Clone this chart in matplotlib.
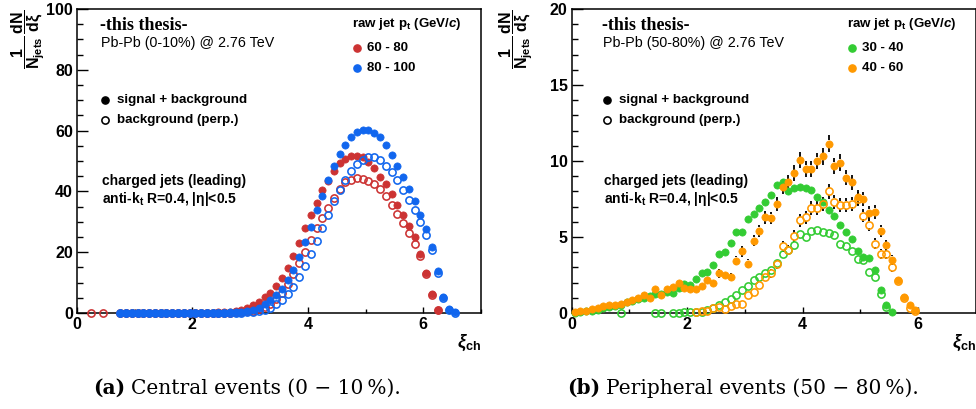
import numpy as np
import matplotlib
matplotlib.use('Agg')
import matplotlib.pyplot as plt
from matplotlib.ticker import MultipleLocator

plt.rcParams['font.family'] = ['Liberation Sans', 'DejaVu Sans']
plt.rcParams['mathtext.fontset'] = 'custom'
plt.rcParams['mathtext.rm'] = 'Liberation Sans:bold'
plt.rcParams['mathtext.it'] = 'Liberation Sans:italic:bold'
plt.rcParams['mathtext.bf'] = 'Liberation Sans:bold'

# ---------------- data: central (0-10%) ----------------
xi_central = np.round(np.arange(0.75, 6.56, 0.1), 2)   # bin centres
red_sig = [0.0, 0.0, 0.0, 0.0, 0.0, 0.0, 0.0, 0.0, 0.0, 0.0, 0.0, 0.05, 0.05, 0.05,
           0.1, 0.1, 0.15, 0.2, 0.3, 0.4, 0.6, 1.0, 1.6, 2.5, 3.7, 5.1, 6.5, 8.8,
           11.5, 14.8, 18.7, 23.1, 27.8, 32.1, 36.2, 40.3, 43.5, 46.6, 49.3, 50.6,
           51.5, 51.8, 51.3, 49.6, 47.8, 44.9, 42.3, 39.2, 35.4, 32.1, 28.5, 25.0,
           19.3, 13.2, 6.3, 1.0]
red_bkg_low_x = [0.25, 0.45]
red_bkg_low = [0.0, 0.0]
red_bkg = [0.0, 0.0, 0.0, 0.0, 0.0, 0.0, 0.0, 0.0, 0.0, 0.0, 0.0, 0.0, 0.0, 0.0,
           0.0, 0.0, 0.0, 0.0, 0.1, 0.15, 0.25, 0.35, 0.5, 0.8, 1.2, 2.0, 3.0, 4.5,
           6.5, 9.7, 12.8, 16.3, 20.0, 24.0, 27.8, 31.4, 34.5, 37.9, 40.9, 43.0,
           43.9, 44.3, 44.0, 43.4, 42.5, 40.9, 38.4, 35.4, 32.7, 29.6, 26.3, 22.8,
           18.7, 12.8, 5.8, 0.9]
blue_sig = [0.0, 0.0, 0.0, 0.0, 0.0, 0.0, 0.0, 0.0, 0.0, 0.0, 0.0, 0.0, 0.0, 0.0,
            0.0, 0.0, 0.05, 0.1, 0.15, 0.2, 0.3, 0.4, 0.6, 1.0, 1.8, 2.8, 4.3, 6.0,
            8.0, 10.9, 14.2, 18.5, 23.3, 28.3, 33.8, 38.5, 43.8, 48.3, 52.4, 55.4,
            58.0, 59.4, 60.2, 60.2, 59.2, 57.8, 55.1, 52.1, 48.5, 44.7, 40.8, 36.8,
            32.4, 27.6, 21.8, 13.8, 5.4, 1.2, 0.3]
blue_bkg = [0.0, 0.0, 0.0, 0.0, 0.0, 0.0, 0.0, 0.0, 0.0, 0.0, 0.0, 0.0, 0.0, 0.0,
            0.0, 0.0, 0.0, 0.0, 0.0, 0.0, 0.0, 0.1, 0.2, 0.3, 0.5, 1.0, 1.8, 2.8,
            4.3, 6.2, 8.7, 11.8, 15.4, 19.3, 23.6, 28.1, 32.4, 36.8, 40.3, 43.6,
            46.7, 49.1, 50.4, 51.3, 51.3, 50.2, 48.5, 46.3, 43.6, 40.5, 37.3, 33.8,
            29.9, 25.6, 20.7, 13.2, 5.0, 1.0, 0.1]

# ---------------- data: peripheral (50-80%) ----------------
xi_periph = np.round(np.arange(0.05, 5.96, 0.1), 2)   # bin centres
green_sig = [0.0, 0.05, 0.1, 0.15, 0.2, 0.3, 0.4, 0.45, 0.55, 0.7, 0.8, 0.9, 1.0,
             1.1, 1.25, 1.25, 1.35, 1.3, 1.65, 1.9, 1.85, 2.25, 2.6, 2.7, 3.15,
             3.87, 4.0, 4.6, 5.3, 5.35, 6.2, 6.5, 6.9, 7.3, 7.75, 8.4, 8.6, 8.05,
             8.2, 8.3, 8.2, 8.1, 7.6, 7.3, 6.75, 6.4, 5.8, 5.3, 4.9, 4.1, 3.7, 3.6,
             2.8, 1.5, 0.5, 0.07]
green_bkg_x = [0.85, 1.45, 1.55, 1.75, 1.85, 1.95, 2.05, 2.15, 2.25, 2.35, 2.45,
               2.55, 2.65, 2.75, 2.85, 2.95, 3.05, 3.15, 3.25, 3.35, 3.45, 3.55,
               3.65, 3.75, 3.85, 3.95, 4.05, 4.15, 4.25, 4.35, 4.45, 4.55, 4.65,
               4.75, 4.85, 4.95, 5.05, 5.15, 5.25, 5.35, 5.45]
green_bkg = [0.0, 0.0, 0.0, 0.0, 0.0, 0.05, 0.05, 0.05, 0.05, 0.2, 0.35, 0.5, 0.75,
             0.95, 1.2, 1.5, 1.8, 2.2, 2.4, 2.6, 2.85, 3.3, 3.85, 4.15, 4.45, 5.2,
             5.0, 5.4, 5.45, 5.35, 5.25, 5.12, 4.57, 4.4, 4.05, 3.57, 3.5, 2.72,
             2.4, 1.27, 0.4]
orange_sig = [0.07, 0.1, 0.15, 0.25, 0.3, 0.45, 0.5, 0.5, 0.57, 0.7, 0.86, 1.0,
              1.2, 1.0, 1.6, 1.2, 1.6, 1.7, 2.0, 1.65, 1.6, 1.6, 1.8, 2.2, 2.0,
              2.6, 2.5, 2.35, 3.45, 4.05, 3.25, 4.75, 5.4, 6.3, 6.25, 7.15, 8.3,
              8.6, 9.2, 10.05, 9.5, 9.5, 10.0, 10.3, 11.15, 9.7, 9.9, 8.9, 8.6,
              7.6, 7.5, 6.6, 6.65, 5.4, 4.45, 3.5, 2.15, 1.05, 0.5, 0.2]
orange_sig_err = [0.05, 0.05, 0.07, 0.08, 0.09, 0.11, 0.12, 0.12, 0.13, 0.14, 0.16,
                  0.17, 0.19, 0.17, 0.21, 0.19, 0.21, 0.22, 0.24, 0.22, 0.21, 0.21,
                  0.23, 0.25, 0.24, 0.27, 0.27, 0.26, 0.32, 0.34, 0.31, 0.37, 0.39,
                  0.43, 0.42, 0.45, 0.49, 0.5, 0.52, 0.54, 0.52, 0.52, 0.54, 0.55,
                  0.57, 0.53, 0.53, 0.51, 0.5, 0.47, 0.47, 0.44, 0.44, 0.39, 0.36,
                  0.32, 0.25, 0.17, 0.12, 0.08]
orange_bkg = [0.05, 0.1, 0.15, 0.3, 0.4, 0.25, 0.45, 0.6, 0.6, 1.2, 1.4, 1.85, 2.4,
              2.6, 3.2, 4.4, 4.15, 5.05, 6.1, 6.3, 6.9, 6.9, 7.15, 8.0, 7.3, 7.1,
              7.1, 7.2, 7.5, 6.4, 5.8, 4.55, 3.9, 3.9, 3.0, 2.1, 1.0, 0.3, 0.1]
orange_bkg_err = [0.04, 0.05, 0.07, 0.09, 0.11, 0.08, 0.11, 0.13, 0.13, 0.19, 0.2,
                  0.23, 0.26, 0.27, 0.3, 0.36, 0.35, 0.38, 0.42, 0.43, 0.45, 0.45,
                  0.45, 0.48, 0.46, 0.45, 0.45, 0.46, 0.47, 0.43, 0.41, 0.36, 0.34,
                  0.34, 0.29, 0.25, 0.17, 0.09, 0.05]

RED, BLUE, GREEN, ORANGE = '#cc3333', '#1166ee', '#33cc33', '#ff9900'
MS = 5.2
MEW = 1.15

W, H = 976, 409
fig = plt.figure(figsize=(W / 100, H / 100), dpi=100)
ax_bottom = (H - 313) / H
ax_height = (313 - 9) / H
axL = fig.add_axes([77 / W, ax_bottom, 404 / W, ax_height])
axR = fig.add_axes([571.7 / W, ax_bottom, 404.3 / W, ax_height])


def style_axis(ax, ymax, ymajor, yminor):
    ax.set_xlim(0, 7)
    ax.set_ylim(0, ymax)
    ax.xaxis.set_major_locator(MultipleLocator(2))
    ax.xaxis.set_minor_locator(MultipleLocator(1))
    ax.yaxis.set_major_locator(MultipleLocator(ymajor))
    ax.yaxis.set_minor_locator(MultipleLocator(yminor))
    ax.tick_params(axis='both', which='both', direction='in', width=1.0,
                   top=False, right=False, labelsize=11.5, pad=3)
    ax.tick_params(axis='y', which='major', length=8)
    ax.tick_params(axis='y', which='minor', length=4.3)
    ax.tick_params(axis='x', which='major', length=4.5)
    ax.tick_params(axis='x', which='minor', length=3)
    for lab in ax.get_xticklabels() + ax.get_yticklabels():
        lab.set_fontweight('bold')
    for sp in ax.spines.values():
        sp.set_linewidth(1.1)


def filled(ax, x, y, c, z=3):
    ax.plot(x, y, 'o', ls='none', ms=MS, mfc=c, mec=c, mew=0.5, zorder=z, clip_on=False)


def hollow(ax, x, y, c, z=3):
    ax.plot(x, y, 'o', ls='none', ms=MS, mfc='none', mec=c, mew=MEW, zorder=z, clip_on=False)


def errbars(ax, x, y, e, ymax):
    # vertical error bars drawn outside the marker, as ROOT does
    px_per_unit = ax.bbox.height / ymax
    r = (MS / 2 * fig.dpi / 72) / px_per_unit
    x = np.asarray(x); y = np.asarray(y); e = np.asarray(e)
    m = e > r
    ax.vlines(x[m], y[m] + r, y[m] + e[m], colors='k', lw=1.3, zorder=2)
    ax.vlines(x[m], y[m] - e[m], y[m] - r, colors='k', lw=1.3, zorder=2)


# ---------- left panel ----------
style_axis(axL, 100, 20, 5)
hollow(axL, red_bkg_low_x, red_bkg_low, RED)
hollow(axL, xi_central[:len(red_bkg)], red_bkg, RED)
filled(axL, xi_central[:len(red_sig)], red_sig, RED)
hollow(axL, xi_central[:len(blue_bkg)], blue_bkg, BLUE)
filled(axL, xi_central[:len(blue_sig)], blue_sig, BLUE)

# ---------- right panel ----------
style_axis(axR, 20, 5, 1)
hollow(axR, green_bkg_x, green_bkg, GREEN)
filled(axR, xi_periph[:len(green_sig)], green_sig, GREEN)
ob_x = xi_periph[-len(orange_bkg):]
errbars(axR, ob_x, orange_bkg, orange_bkg_err, 20)
hollow(axR, ob_x, orange_bkg, ORANGE)
errbars(axR, xi_periph[:len(orange_sig)], orange_sig, orange_sig_err, 20)
filled(axR, xi_periph[:len(orange_sig)], orange_sig, ORANGE)


def annotate_panel(ax, sys_text, labels, colors, dx):
    def fy(py):
        return (313 - py) / 304
    t = ax.transAxes
    ax.text(dx, fy(26), '-this thesis-', transform=t, family='Liberation Serif',
            fontweight='bold', fontsize=13, va='center', ha='left')
    ax.text(dx + 0.003, fy(42.5), sys_text, transform=t, fontsize=10.3,
            va='center', ha='left')
    ax.plot([dx + 0.013], [fy(99.5)], 'o', ms=MS, mfc='k', mec='k', transform=t, clip_on=False)
    ax.text(dx + 0.042, fy(99.5), 'signal + background', transform=t, fontsize=9.6,
            fontweight='bold', va='center', ha='left')
    ax.plot([dx + 0.013], [fy(119.5)], 'o', ms=MS, mfc='none', mec='k', mew=MEW,
            transform=t, clip_on=False)
    ax.text(dx + 0.042, fy(119.5), 'background (perp.)', transform=t, fontsize=9.6,
            fontweight='bold', va='center', ha='left')
    ax.text(dx + 0.005, fy(180.5), 'charged jets (leading)', transform=t, fontsize=10,
            fontweight='bold', va='center', ha='left')
    ax.text(dx + 0.005, fy(198.5), r'anti-k$_\mathbf{t}$ R=0.4, |η|<0.5', transform=t,
            fontsize=10, fontweight='bold', va='center', ha='left')
    # legend
    ax.text(0.681, fy(24), r'raw jet p$_\mathbf{t}$ (GeV/$\mathit{c}$)', transform=t,
            fontsize=9.6, fontweight='bold', va='center', ha='left')
    for i, (lab, c) in enumerate(zip(labels, colors)):
        yy = fy(47.7 + 20.6 * i)
        ax.plot([0.693], [yy], 'o', ms=MS, mfc=c, mec=c, transform=t, clip_on=False)
        ax.text(0.719, yy, lab, transform=t, fontsize=9.5, fontweight='bold',
                va='center', ha='left')


annotate_panel(axL, 'Pb-Pb (0-10%) @ 2.76 TeV', ['60 - 80', '80 - 100'], [RED, BLUE], 0.057)
annotate_panel(axR, 'Pb-Pb (50-80%) @ 2.76 TeV', ['30 - 40', '40 - 60'], [GREEN, ORANGE], 0.074)

# y-axis titles
ylab = r'$\mathbf{\dfrac{1}{N_{jets}}\,\dfrac{dN}{d\xi}}$'
fig.text(28 / W, 1 - 39 / H, ylab, rotation=90, fontsize=11.5, ha='center', va='center')
fig.text(516 / W, 1 - 39 / H, ylab, rotation=90, fontsize=11.5, ha='center', va='center')

# x-axis titles
xlab = r'$\xi_{\mathbf{ch}}$'
fig.text(481 / W, 1 - 343 / H, xlab, fontsize=13, ha='right', va='center')
fig.text(976 / W, 1 - 343 / H, xlab, fontsize=13, ha='right', va='center')

# captions
CAP_FONT = 'DejaVu Serif'
CAP_SIZE = 14.5


def caption(xc, tag, rest):
    t1 = fig.text(xc / W, 1 - 388 / H, tag, family=CAP_FONT, fontweight='bold',
                  fontsize=CAP_SIZE, ha='left', va='center')
    t2 = fig.text(0, 0, rest, family=CAP_FONT, fontsize=CAP_SIZE, ha='left', va='center')
    fig.canvas.draw()
    r = fig.canvas.get_renderer()
    b1 = t1.get_window_extent(r)
    b2 = t2.get_window_extent(r)
    gap = 5
    total = b1.width + gap + b2.width
    left = xc - total / 2
    t1.set_x(left / W)
    t2.set_position(((left + b1.width + gap) / W, 1 - 388 / H))


caption(247, '(a)', 'Central events (0 \u2212 10\u2009%).')
caption(743, '(b)', 'Peripheral events (50 \u2212 80\u2009%).')

fig.savefig('out.png', dpi=100)
